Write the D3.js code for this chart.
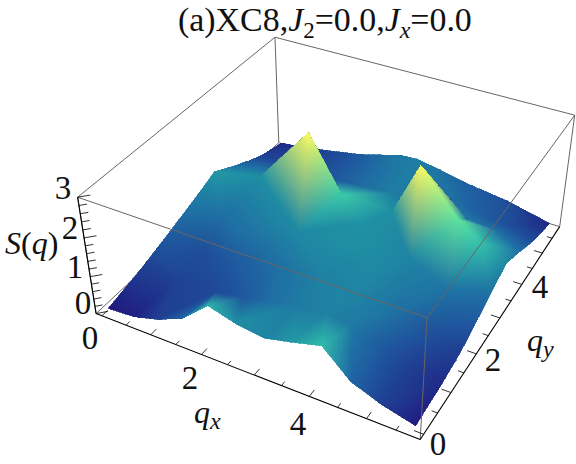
<!DOCTYPE html>
<html><head><meta charset="utf-8">
<script src="https://cdn.jsdelivr.net/npm/d3@7"></script>
<style>
html,body{margin:0;background:#fff}
text{font-family:"Liberation Serif",serif;fill:#111}
</style></head>
<body><svg id="chart" width="576" height="464" style="display:block"></svg>
<script>
// S(q) samples
const frontQx = [0.03,0.55,1.05,1.57,2.1,2.6,3.14,3.6,4.15,4.65,5.2,5.75];
const frontS  = [.08,.12,.3,.6,1.2,1.0,.9,1.05,1.25,.6,.3,.1];
const backQx  = [0.03,0.55,1.05,1.8,2.7,3.05,4.1,4.88,5.75];
const backS   = [.15,.22,.33,.5,.82,.85,.57,.42,.15];
const leftQy  = [1,1.7,2.4,2.9,3.37,4.09,4.6,5];
const leftS   = [.3,.5,.72,.88,1.05,.7,.48,.32];
const rightQy = [1,1.7,2.4,2.9,3.5,4.15,4.6,5];
const rightS  = [.18,.3,.55,.75,.95,.7,.5,.35];
const innerQx = [.8,1.57,2.1,2.6,3.14,3.7,4.15,4.7,5.2, .8,1.57,2.3,3.14,3.9,4.6,5.2, .7,1.1,2.28,3.2,3.7,4.25,5.1, .82,2.6,3.14,3.44,4.8,5.26, 1.57,3.8, .7,.8,1.75,2.4,3.1,3.4,3.8,4.5,4.6,5.2,5.2];
const innerQy = [1,1,1,1,1,1,1,1,1, 1.8,1.8,1.8,1.8,1.8,1.8,1.8, 2.6,2.4,2.6,2.6,2.6,2.9,2.6, 3.7,3.55,3.3,3.86,3.58,3.47, 4.2,4.2, 4.25,4.85,4.75,5.1,4.5,4.6,5,5,4.5,4.5,5];
const innerS  = [.33,.38,.5,.68,.82,.88,.8,.5,.3, .42,.55,.7,.88,.92,.72,.45, .7,.7,.95,1.0,.98,.9,.75, 1.0,1.35,1.02,1.0,1.6,1.3, 2.12,2.12, .72,.42,.5,.68,.85,.78,.8,.58,.78,.7,.44];
const xLabels = [0,2,4];
const yLabels = [0,2,4];
const zLabels = [0,1,2,3];
const colorStops = [0,.3,.6,1,1.3,1.7,2.12];
const colorValues = ['#230c78','#1f3f92','#1f64a4','#1f8ea3','#35c4ab','#6ceb9a','#fbfb62'];

const qxAll = [...frontQx, ...backQx, ...leftQy.map(() => .03), ...rightQy.map(() => 5.75), ...innerQx];
const qyAll = [...frontQx.map(() => .03), ...backQx.map(() => 5.75), ...leftQy, ...rightQy, ...innerQy];
const sAll  = [...frontS, ...backS, ...leftS, ...rightS, ...innerS];

const xDomain = [-0.12,5.9], yDomain = [-0.12,5.9], zDomain = [0,3];
const color = d3.scaleLinear().domain(colorStops).range(colorValues).interpolate(d3.interpolateRgb);

// box corners on the page, used to fit the camera
const corners = [[0,0,0,96,313.7],[1,0,0,420.3,439.3],[1,1,0,559.7,226.7],[0,0,1,77.7,197],[1,0,1,427,318],[1,1,1,574.7,115],[0,1,1,275,37.3]];
function fitCamera() {
  const A = [], b = [];
  corners.forEach(([x,y,z,u,v]) => {
    u /= 500; v /= 500;
    A.push([x,y,z,1,0,0,0,0,-u*x,-u*y,-u*z]); b.push(u);
    A.push([0,0,0,0,x,y,z,1,-v*x,-v*y,-v*z]); b.push(v);
  });
  const n = 11;
  const M = d3.range(n).map(i => d3.range(n+1).map(j => d3.sum(A, (r,k) => r[i]*(j<n ? r[j] : b[k]))));
  for (let i=0;i<n;i++) {
    let p = i;
    for (let r=i;r<n;r++) if (Math.abs(M[r][i])>Math.abs(M[p][i])) p = r;
    [M[i],M[p]] = [M[p],M[i]];
    for (let r=0;r<n;r++) if (r!=i) {
      const f = M[r][i]/M[i][i];
      for (let c=i;c<=n;c++) M[r][c] -= f*M[i][c];
    }
  }
  return M.map((r,i) => r[n]/r[i]);
}
const P = fitCamera();
const sx = d3.scaleLinear().domain(xDomain).range([0,1]);
const sy = d3.scaleLinear().domain(yDomain).range([0,1]);
const sz = d3.scaleLinear().domain(zDomain).range([0,1]);
function project(qx,qy,s) {
  const x=sx(qx), y=sy(qy), z=sz(s), w=P[8]*x+P[9]*y+P[10]*z+1;
  return [500*(P[0]*x+P[1]*y+P[2]*z+P[3])/w, 500*(P[4]*x+P[5]*y+P[6]*z+P[7])/w, w];
}

const svg = d3.select('#chart');
const [x0,x1] = xDomain, [y0,y1] = yDomain, [z0,z1] = zDomain;

function edge(g,a,b,stroke,width) {
  const p=project(...a), q=project(...b);
  g.append('line').attr('x1',p[0]).attr('y1',p[1]).attr('x2',q[0]).attr('y2',q[1])
    .attr('stroke',stroke).attr('stroke-width',width);
}

// back of the box
const back = svg.append('g');
[[[x0,y0,z1],[x0,y1,z1]],[[x0,y1,z1],[x1,y1,z1]],[[x0,y1,z0],[x0,y1,z1]],
 [[x0,y0,z0],[x0,y1,z0]],[[x0,y1,z0],[x1,y1,z0]]].forEach(e => edge(back,e[0],e[1],'#666',1));

// surface: triangulate the samples, split each triangle small and paint far to near
const delaunay = d3.Delaunay.from(qxAll.map((x,i) => [x,qyAll[i]]));
const tris = [];
const tri = delaunay.triangles;
const path = d3.line();
for (let t=0;t<tri.length;t+=3) {
  const ids=[tri[t],tri[t+1],tri[t+2]];
  const q=ids.map(i => [qxAll[i],qyAll[i],sAll[i]]);
  const c=ids.map(i => d3.rgb(color(sAll[i])));
  const pg=q.map(v => project(...v));
  const longest=d3.max([[0,1],[1,2],[2,0]], ([a,b]) => Math.hypot(pg[a][0]-pg[b][0],pg[a][1]-pg[b][1]));
  const n=Math.max(1,Math.ceil(longest/2.5));
  const areaQ=d3.polygonArea(q.map(v => [v[0],v[1]]));
  const vert=(a,b) => {
    const k=[a/n,b/n,1-(a+b)/n];
    const at=d => k[0]*d[0]+k[1]*d[1]+k[2]*d[2];
    return project(at(q.map(v=>v[0])),at(q.map(v=>v[1])),at(q.map(v=>v[2])));
  };
  const shade=(k) => {
    const at=ch => k[0]*c[0][ch]+k[1]*c[1][ch]+k[2]*c[2][ch];
    return `rgb(${at('r')},${at('g')},${at('b')})`;
  };
  for (let a=0;a<n;a++) for (let b=0;b<n-a;b++) {
    const push=(tp,k) => {
      const pts=tp.map(v => [v[0],v[1]]);
      const under=d3.polygonArea(pts)*areaQ>0;
      tris.push({d:path(pts)+'Z',fill:under?'#0d3147':shade(k),w:d3.mean(tp,v=>v[2])});
    };
    push([vert(a,b),vert(a+1,b),vert(a,b+1)],[(a+1/3)/n,(b+1/3)/n,1-(a+b+2/3)/n]);
    if (a+b<n-1) push([vert(a+1,b),vert(a+1,b+1),vert(a,b+1)],[(a+2/3)/n,(b+2/3)/n,1-(a+b+4/3)/n]);
  }
}
tris.sort((p,q) => q.w-p.w);
svg.append('g').attr('shape-rendering','crispEdges').selectAll('path').data(tris).join('path')
  .attr('d',d => d.d).attr('fill',d => d.fill).attr('stroke',d => d.fill).attr('stroke-width',.7);

// front of the box over the surface
const front = svg.append('g');
[[[x0,y0,z1],[x1,y0,z1]],[[x1,y0,z1],[x1,y1,z1]],[[x1,y0,z0],[x1,y0,z1]],[[x1,y1,z0],[x1,y1,z1]],
 [[x0,y0,z0],[x0,y0,z1]]].forEach(e => edge(front,e[0],e[1],'#6b6464',1));

// axes
const axes = svg.append('g');
edge(axes,[x0,y0,z0],[x1,y0,z0],'#000',1.1);
edge(axes,[x1,y0,z0],[x1,y1,z0],'#000',1.1);
edge(axes,[x0,y0,z0],[x0,y0,z1],'#000',1.1);
d3.range(0,6,.5).forEach(q => {
  const len = q%1==0 ? .16 : .1;
  edge(axes,[q,y0,z0],[q,y0+len,z0],'#000',.8);
  edge(axes,[x1,q,z0],[x1-len,q,z0],'#000',.8);
});
d3.range(0,16).forEach(k => {
  const s=k*.2, len = k%5==0 ? .14 : .09;
  edge(axes,[x0,y0,s],[x0+len,y0+len,s],'#000',.8);
});

function label(x,y,size,parts,anchor='middle') {
  const t = svg.append('text').attr('x',x).attr('y',y).attr('font-size',size).attr('text-anchor',anchor);
  parts.forEach(([s,it,dy,fs]) => {
    const ts = t.append('tspan').text(s);
    if (it) ts.attr('font-style','italic');
    if (dy) ts.attr('dy',dy);
    if (fs) ts.attr('font-size',fs);
  });
}
const xLabelPos = [[90,349],[190,389],[298,435]];
const yLabelPos = [[438,455],[493,371],[540,298]];
const zLabelPos = [[83,314],[75,278],[70,239],[63,199]];
xLabels.forEach((v,i) => label(...xLabelPos[i],33,[[v]]));
yLabels.forEach((v,i) => label(...yLabelPos[i],33,[[v]]));
zLabels.forEach((v,i) => label(...zLabelPos[i],33,[[v]]));
label(5,254,32,[['S',1],['('],['q',1],[')']],'start');
label(194,423,32,[['q',1],['x',1,6,24]],'start');
label(527,351,32,[['q',1],['y',1,6,24]],'start');
label(178,31,33.9,[['(a)XC8,'],['J',1],['2',0,7,23],['=0.0,',0,-7,33.9],['J',1],['x',1,7,24],['=0.0',0,-7,33.9]],'start');
</script></body></html>
